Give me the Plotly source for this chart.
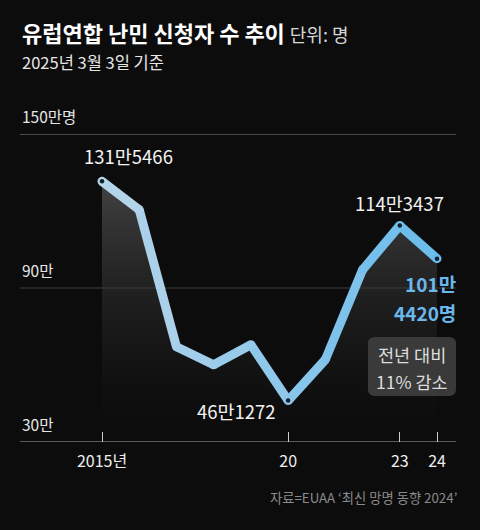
import plotly.graph_objects as go

# ---- data ----
years = [2015, 2016, 2017, 2018, 2019, 2020, 2021, 2022, 2023, 2024]
values_man = [131.5466, 120.5, 67.1, 60.1, 67.9, 46.1272, 62.1, 97.1, 114.3437, 101.4420]  # 단위: 만 명
tick_years = [2015, 2020, 2023, 2024]
tick_labels = ["2015년", "20", "23", "24"]
grid_vals = [150, 90, 30]
grid_labels = ["150만명", "90만", "30만"]
labeled_idx = [0, 5, 8, 9]

FONT = "Noto Sans CJK KR"
BG = "#0c0c0c"


def fmt_man(v):
    n = int(round(v * 10000))
    return f"{n // 10000}만{n % 10000:04d}"


def lerp_color(t, c0=(184, 214, 234), c1=(104, 186, 236)):
    r = round(c0[0] + (c1[0] - c0[0]) * t)
    g = round(c0[1] + (c1[1] - c0[1]) * t)
    b = round(c0[2] + (c1[2] - c0[2]) * t)
    return f"rgb({r},{g},{b})"


fig = go.Figure()

# gradient fill under the line
fig.add_trace(go.Scatter(
    x=years, y=values_man, mode="lines", line=dict(width=0),
    fill="tozeroy",
    fillgradient=dict(type="vertical",
                      colorscale=[[0, "rgba(12,12,12,0)"], [0.25, "rgba(30,30,30,0.3)"], [1, "rgba(85,85,85,0.75)"]],
                      start=30, stop=132),
    hoverinfo="skip", showlegend=False,
))

# line segments with colour gradient
n = len(years)
for i in range(n - 1):
    fig.add_trace(go.Scatter(
        x=years[i:i + 2], y=values_man[i:i + 2], mode="lines",
        line=dict(color=lerp_color((i + 0.5) / (n - 1)), width=9),
        hoverinfo="skip", showlegend=False,
    ))
# joints
fig.add_trace(go.Scatter(
    x=years, y=values_man, mode="markers",
    marker=dict(size=9, color=[lerp_color(i / (n - 1)) for i in range(n)], line=dict(width=0)),
    hoverinfo="skip", showlegend=False,
))
# small dark dots at labelled points
fig.add_trace(go.Scatter(
    x=[years[i] for i in labeled_idx], y=[values_man[i] for i in labeled_idx], mode="markers",
    marker=dict(size=4.5, color="#13202b", line=dict(width=0)),
    hoverinfo="skip", showlegend=False,
))

shapes = []
grid_styles = {150: ("#4a4a4a", 2), 90: ("#3e3e3e", 1), 30: ("#5a5a5a", 2)}
for gv in grid_vals:
    col, w = grid_styles[gv]
    shapes.append(dict(type="line", xref="paper", yref="y", x0=0, x1=1, y0=gv, y1=gv,
                       line=dict(color=col, width=w), layer="below"))

# rounded box
x0, x1, y0, y1 = 0.798, 1.0, 0.149, 0.341
rx, ry = 0.016, 0.022
path = (f"M {x0+rx},{y1} L {x1-rx},{y1} Q {x1},{y1} {x1},{y1-ry} L {x1},{y0+ry} "
        f"Q {x1},{y0} {x1-rx},{y0} L {x0+rx},{y0} Q {x0},{y0} {x0},{y0+ry} "
        f"L {x0},{y1-ry} Q {x0},{y1} {x0+rx},{y1} Z")
shapes.append(dict(type="path", xref="paper", yref="paper", path=path,
                   fillcolor="rgba(62,62,62,0.92)", line=dict(width=0), layer="above"))

annotations = []
# title
annotations.append(dict(
    xref="paper", yref="paper", x=0, y=1.330, xanchor="left", yanchor="middle", showarrow=False,
    text="<b>유럽연합 난민 신청자 수 추이</b> <span style='font-size:18px;color:#d8d8d8'>단위: 명</span>",
    font=dict(family=FONT, size=22, color="#ffffff"),
))
annotations.append(dict(
    xref="paper", yref="paper", x=0, y=1.234, xanchor="left", yanchor="middle", showarrow=False,
    text="2025년 3월 3일 기준", font=dict(family=FONT, size=16.5, color="#e6e6e6"),
))
# grid labels
for gv, gl in zip(grid_vals, grid_labels):
    annotations.append(dict(
        xref="paper", yref="y", x=0, y=gv, xanchor="left", yanchor="middle", yshift=18,
        showarrow=False, text=gl, font=dict(family=FONT, size=15.5, color="#e6e6e6"),
    ))
# value labels
label_offsets = {0: (26, 25), 5: (-52, -10), 8: (0, 23)}
for i, (dx, dy) in label_offsets.items():
    annotations.append(dict(
        xref="x", yref="y", x=years[i], y=values_man[i], xanchor="center", yanchor="middle",
        xshift=dx, yshift=dy, showarrow=False, text=fmt_man(values_man[i]),
        font=dict(family=FONT, size=18.5, color="#f2f2f2"),
    ))
last = fmt_man(values_man[-1])
man_part, rest = last.split("만")
annotations.append(dict(
    xref="x", yref="y", x=years[-1], y=values_man[-1], xanchor="right", yanchor="middle",
    xshift=21, yshift=-25, showarrow=False, text=f"<b>{man_part}만</b>",
    font=dict(family=FONT, size=19, color="#6ab8ec"),
))
annotations.append(dict(
    xref="x", yref="y", x=years[-1], y=values_man[-1], xanchor="right", yanchor="middle",
    xshift=21, yshift=-54, showarrow=False, text=f"<b>{rest}명</b>",
    font=dict(family=FONT, size=19, color="#6ab8ec"),
))
# box text
annotations.append(dict(
    xref="paper", yref="paper", x=0.899, y=0.283, xanchor="center", yanchor="middle", showarrow=False,
    text="전년 대비", font=dict(family=FONT, size=17.5, color="#dddddd"),
))
annotations.append(dict(
    xref="paper", yref="paper", x=0.899, y=0.198, xanchor="center", yanchor="middle", showarrow=False,
    text="11% 감소", font=dict(family=FONT, size=17.5, color="#dddddd"),
))
# source
annotations.append(dict(
    xref="paper", yref="paper", x=1.006, y=-0.179, xanchor="right", yanchor="middle", showarrow=False,
    text="자료=EUAA ‘최신 망명 동향 2024’", font=dict(family=FONT, size=13.3, color="#8a8a8a"),
))

fig.update_layout(
    width=480, height=530,
    margin=dict(l=20, r=24, t=134, b=88),
    paper_bgcolor=BG, plot_bgcolor=BG,
    showlegend=False,
    shapes=shapes, annotations=annotations,
    xaxis=dict(range=[2012.797, 2024.51], showgrid=False, zeroline=False, showline=False,
               tickvals=tick_years, ticktext=tick_labels, ticks="inside", ticklen=10,
               tickcolor="#cccccc", tickwidth=1, ticklabelstandoff=8,
               tickfont=dict(family=FONT, size=16, color="#eeeeee"), fixedrange=True),
    yaxis=dict(range=[30, 150], showgrid=False, zeroline=False, showline=False,
               showticklabels=False, fixedrange=True),
)

fig.write_html(
    "out.html",
    config={"displayModeBar": False},
    post_script="document.body.style.margin='0';document.body.style.background='#0c0c0c';document.body.style.overflow='hidden';",
)
